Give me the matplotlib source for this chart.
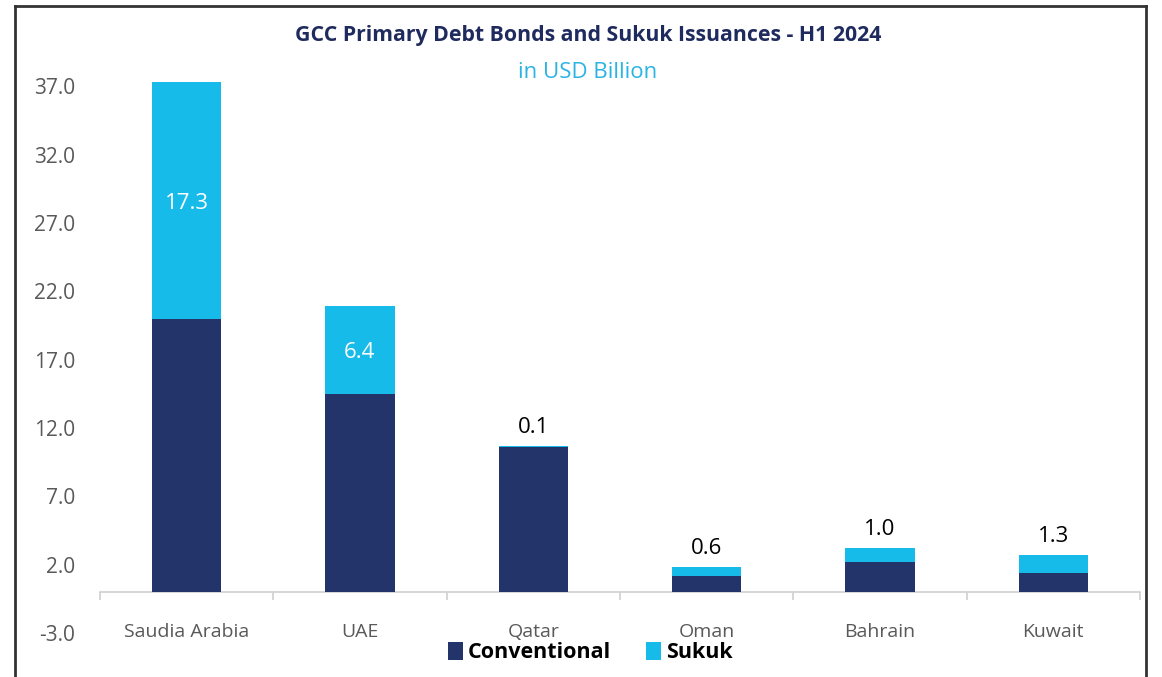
import matplotlib
matplotlib.use('Agg')
import matplotlib.pyplot as plt
from matplotlib.lines import Line2D
from matplotlib.ticker import FixedLocator
import numpy as np

plt.rcParams['font.family'] = ['Open Sans', 'DejaVu Sans']

countries = ['Saudia Arabia', 'UAE', 'Qatar', 'Oman', 'Bahrain', 'Kuwait']
conventional = [20.0, 14.5, 10.6, 1.2, 2.2, 1.4]
sukuk = [17.3, 6.4, 0.1, 0.6, 1.0, 1.3]
yticks = [-3.0, 2.0, 7.0, 12.0, 17.0, 22.0, 27.0, 32.0, 37.0]

navy = '#22346a'
cyan = '#16bbea'
grey_txt = '#595959'

fig = plt.figure(figsize=(11.62, 6.77), dpi=100)
ax = fig.add_axes([0.086, 0.065, 0.895, 0.858])

x = np.arange(len(countries))
ax.bar(x, conventional, width=0.4, color=navy, label='Conventional', zorder=3)
ax.bar(x, sukuk, width=0.4, bottom=conventional, color=cyan, label='Sukuk', zorder=3)

# data labels: inside for large segments, above the bar otherwise
for i in range(len(x)):
    top = conventional[i] + sukuk[i]
    if sukuk[i] > 5:
        ax.text(x[i], conventional[i] + sukuk[i] / 2 - 0.2, '%.1f' % sukuk[i],
                ha='center', va='center', color='white', fontsize=16)
    else:
        ax.text(x[i], top + 0.6, '%.1f' % sukuk[i], ha='center', va='bottom',
                color='black', fontsize=16)

ax.set_xlim(-0.5, 5.5)
ax.set_ylim(-3, 39.5)
ax.set_yticks(yticks)
ax.set_yticklabels(['%.1f' % v for v in yticks])
ax.tick_params(axis='y', length=0, pad=18, labelsize=15, labelcolor=grey_txt)

ax.set_xticks(x)
ax.set_xticklabels(countries)
ax.xaxis.set_minor_locator(FixedLocator(np.arange(-0.5, 6.0, 1.0)))
ax.tick_params(axis='x', which='major', length=0, pad=22, labelsize=14, labelcolor=grey_txt)
ax.tick_params(axis='x', which='minor', length=6, color='#d0d0d0', width=1.2)

for s in ['top', 'right', 'left']:
    ax.spines[s].set_visible(False)
ax.spines['bottom'].set_position(('data', 0))
ax.spines['bottom'].set_color('#d0d0d0')
ax.spines['bottom'].set_linewidth(1.2)

fig.text(0.506, 0.948, 'GCC Primary Debt Bonds and Sukuk Issuances - H1 2024',
         ha='center', va='center', fontsize=15.3, fontweight='bold', color='#1f2b5e')
fig.text(0.506, 0.893, 'in USD Billion', ha='center', va='center',
         fontsize=16, color='#2bb3e3')

leg = fig.legend(loc='center', bbox_to_anchor=(0.508, 0.036), ncol=2, frameon=False,
                 prop={'size': 15.5, 'weight': 'bold'}, handlelength=0.7,
                 handleheight=0.9, handletextpad=0.25, columnspacing=1.6)

# outer frame
fc = '#333333'
fig.add_artist(Line2D([0.013, 0.013], [0.0, 0.991], transform=fig.transFigure, color=fc, lw=2))
fig.add_artist(Line2D([0.986, 0.986], [0.0, 0.991], transform=fig.transFigure, color=fc, lw=2))
fig.add_artist(Line2D([0.013, 0.986], [0.991, 0.991], transform=fig.transFigure, color=fc, lw=2))

fig.savefig('out.png', dpi=100)
